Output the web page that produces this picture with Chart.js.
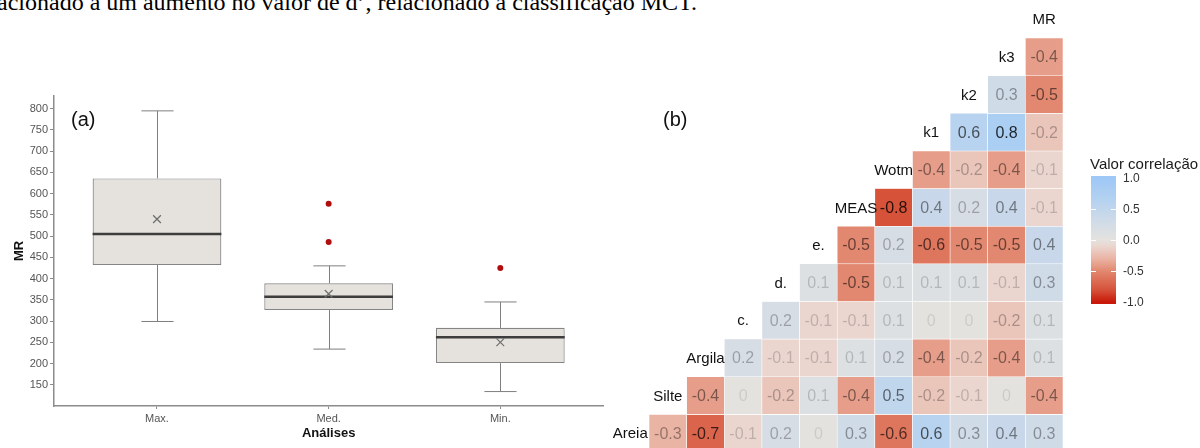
<!DOCTYPE html>
<html>
<head>
<meta charset="utf-8">
<title>MR - boxplot e correlação</title>
<script src="https://cdn.jsdelivr.net/npm/chart.js@4.4.1/dist/chart.umd.min.js"></script>
<style>
  html, body { margin: 0; padding: 0; background: #fff; }
  body { width: 1200px; height: 448px; overflow: hidden; position: relative; }
  #docText { position: absolute; left: -3px; top: -10px; font: 24px "Liberation Serif", "Times New Roman", serif; line-height: 24px; color: #000; white-space: nowrap; }
  .tag { position: absolute; top: 107px; font: 20px "Liberation Sans", Arial, sans-serif; line-height: 24px; color: #111; }
  #boxWrap { position: absolute; left: 0; top: 0; }
  #heatWrap { position: absolute; left: 600px; top: 0; }
</style>
</head>
<body>
<div id="docText">acionado a um aumento no valor de d’, relacionado à classificação MCT.</div>
<div id="boxWrap"><canvas id="boxChart" width="610" height="448"></canvas></div>
<div id="heatWrap"><canvas id="heatChart" width="600" height="456"></canvas></div>
<div class="tag" style="left:71px">(a)</div>
<div class="tag" style="left:663px">(b)</div>
<script>
// (a) boxplot do MR
var categories = ['Max.', 'Med.', 'Min.'];
var boxQ1 = [432, 326, 201];
var boxQ3 = [636, 389, 284];
var medians = [505, 357, 262];
var means = [540, 364, 250];
var whiskerLow = [299, 234, 134];
var whiskerHigh = [795, 430, 345];
var outlierGroup = ['Med.', 'Med.', 'Min.'];
var outlierValues = [576, 486, 425];
var yTicks = [150, 200, 250, 300, 350, 400, 450, 500, 550, 600, 650, 700, 750, 800];

// (b) matriz de correlação (cada linha: correlação com as variáveis seguintes)
var variables = ['Areia', 'Silte', 'Argila', 'c.', 'd.', 'e.', 'MEAS', 'Wotm', 'k1', 'k2', 'k3', 'MR'];
var corAreia = [-0.3, -0.7, -0.1, 0.2, 0, 0.3, -0.6, 0.6, 0.3, 0.4, 0.3];
var corSilte = [-0.4, 0, -0.2, 0.1, -0.4, 0.5, -0.2, -0.1, 0, -0.4];
var corArgila = [0.2, -0.1, -0.1, 0.1, 0.2, -0.4, -0.2, -0.4, 0.1];
var corC = [0.2, -0.1, -0.1, 0.1, 0, 0, -0.2, 0.1];
var corD = [0.1, -0.5, 0.1, 0.1, 0.1, -0.1, 0.3];
var corE = [-0.5, 0.2, -0.6, -0.5, -0.5, 0.4];
var corMEAS = [-0.8, 0.4, 0.2, 0.4, -0.1];
var corWotm = [-0.4, -0.2, -0.4, -0.1];
var corK1 = [0.6, 0.8, -0.2];
var corK2 = [0.3, -0.5];
var corK3 = [-0.4];
var legendTicks = [1, 0.5, 0, -0.5, -1];

var colorStops = [
    [-1, [200, 25, 10]],
    [-0.8, [214, 83, 58]],
    [-0.5, [226, 136, 112]],
    [-0.3, [234, 180, 164]],
    [-0.1, [234, 214, 207]],
    [0, [228, 226, 223]],
    [0.3, [208, 219, 232]],
    [0.6, [184, 211, 239]],
    [1, [158, 200, 246]]
];

function colorFor(v) {
    for (var i = 1; i < colorStops.length; i++) {
        if (v <= colorStops[i][0]) {
            var a = colorStops[i - 1], b = colorStops[i];
            var t = (v - a[0]) / (b[0] - a[0]);
            var c = a[1].map(function(ch, k) { return Math.round(ch + (b[1][k] - ch) * t); });
            return 'rgb(' + c.join(',') + ')';
        }
    }
    return 'rgb(' + colorStops[colorStops.length - 1][1].join(',') + ')';
}

var FONT = '"Liberation Sans", Arial, sans-serif';
var axisGrey = '#8c8c8c';

// ---- boxplot ----
var whiskerPlugin = {
    id: 'whiskers',
    afterDatasetDraw: function(chart, args) {
        if (args.index !== 0) return;
        var ctx = chart.ctx, x = chart.scales.x, y = chart.scales.y;
        ctx.save();
        categories.forEach(function(c, i) {
            var bar = args.meta.data[i];
            var cx = Math.round(x.getPixelForValue(i + 1)) + 0.5;
            var half = bar.width / 2;
            var cap = half / 4;
            ctx.strokeStyle = '#7f7f7f';
            ctx.lineWidth = 1;
            ctx.beginPath();
            ctx.moveTo(cx, y.getPixelForValue(boxQ3[i]));
            ctx.lineTo(cx, y.getPixelForValue(whiskerHigh[i]));
            ctx.moveTo(cx, y.getPixelForValue(boxQ1[i]));
            ctx.lineTo(cx, y.getPixelForValue(whiskerLow[i]));
            ctx.moveTo(cx - cap, y.getPixelForValue(whiskerHigh[i]));
            ctx.lineTo(cx + cap, y.getPixelForValue(whiskerHigh[i]));
            ctx.moveTo(cx - cap, y.getPixelForValue(whiskerLow[i]));
            ctx.lineTo(cx + cap, y.getPixelForValue(whiskerLow[i]));
            ctx.stroke();
            ctx.strokeStyle = '#3d3d3d';
            ctx.lineWidth = 2.5;
            ctx.beginPath();
            ctx.moveTo(bar.x - half, y.getPixelForValue(medians[i]));
            ctx.lineTo(bar.x + half, y.getPixelForValue(medians[i]));
            ctx.stroke();
        });
        ctx.restore();
    }
};

new Chart(document.getElementById('boxChart'), {
    type: 'bar',
    data: {
        datasets: [{
            data: categories.map(function(c, i) { return { x: i + 1, y: [boxQ1[i], boxQ3[i]] }; }),
            backgroundColor: '#e5e1dd',
            borderColor: '#858585',
            borderWidth: 1.2,
            borderSkipped: false,
            barPercentage: 0.75,
            categoryPercentage: 1,
            order: 3
        }, {
            type: 'scatter',
            data: categories.map(function(c, i) { return { x: i + 1, y: means[i] }; }),
            pointStyle: 'crossRot',
            radius: 5.5,
            borderColor: '#6e6e6e',
            borderWidth: 1.2,
            backgroundColor: 'transparent',
            order: 2
        }, {
            type: 'scatter',
            data: outlierValues.map(function(v, i) { return { x: categories.indexOf(outlierGroup[i]) + 1, y: v }; }),
            pointStyle: 'circle',
            radius: 3,
            borderWidth: 0,
            backgroundColor: '#b10d0d',
            order: 1
        }]
    },
    options: {
        responsive: false,
        animation: false,
        layout: { padding: { top: 96, right: 6, left: 0, bottom: 0 } },
        plugins: { legend: { display: false }, tooltip: { enabled: false } },
        scales: {
            x: {
                type: 'linear',
                min: 0.4,
                max: 3.6,
                offset: false,
                afterBuildTicks: function(s) { s.ticks = categories.map(function(c, i) { return { value: i + 1 }; }); },
                afterFit: function(s) { s.height = 42; },
                grid: { drawOnChartArea: false, drawTicks: true, tickLength: 3, color: axisGrey, offset: false },
                border: { display: true, color: axisGrey, width: 1.5 },
                ticks: {
                    color: '#555',
                    font: { family: FONT, size: 11 },
                    padding: 3,
                    callback: function(v) { return categories[v - 1] || ''; }
                },
                title: { display: true, text: 'Análises', color: '#111', font: { family: FONT, size: 13, weight: 'bold' }, padding: { top: 0, bottom: 7 } }
            },
            y: {
                min: 100,
                max: 830,
                afterBuildTicks: function(s) { s.ticks = yTicks.map(function(v) { return { value: v }; }); },
                afterFit: function(s) { s.width = 54; },
                grid: { drawOnChartArea: false, drawTicks: true, tickLength: 4, color: axisGrey },
                border: { display: true, color: axisGrey, width: 1.5 },
                ticks: { color: '#555', font: { family: FONT, size: 11 }, padding: 2 },
                title: { display: true, text: 'MR', color: '#111', font: { family: FONT, size: 13, weight: 'bold' }, padding: { top: 12, bottom: 0 } }
            }
        }
    },
    plugins: [whiskerPlugin]
});

// ---- heatmap ----
var rowValues = [corAreia, corSilte, corArgila, corC, corD, corE, corMEAS, corWotm, corK1, corK2, corK3];
var heatData = [];
rowValues.forEach(function(vals, i) {
    vals.forEach(function(v, k) {
        heatData.push({ x: variables[i + 1 + k], y: [i - 0.5, i + 0.5], v: v });
    });
});

function fmt(v) { return v === 0 ? '0' : v.toFixed(1); }

var heatLabels = {
    id: 'heatLabels',
    afterDatasetsDraw: function(chart) {
        var ctx = chart.ctx, x = chart.scales.x, y = chart.scales.y;
        ctx.save();
        ctx.textAlign = 'center';
        ctx.textBaseline = 'middle';
        ctx.font = '15px ' + FONT;
        ctx.fillStyle = '#111';
        variables.forEach(function(name, i) {
            ctx.fillText(name, x.getPixelForValue(i), y.getPixelForValue(i) + 1);
        });
        ctx.font = '16px ' + FONT;
        heatData.forEach(function(d) {
            ctx.fillStyle = 'rgba(0,0,0,' + (0.1 + 0.9 * Math.abs(d.v)).toFixed(2) + ')';
            ctx.fillText(fmt(d.v), x.getPixelForValue(variables.indexOf(d.x)), y.getPixelForValue((d.y[0] + d.y[1]) / 2) + 1);
        });

        // colour bar legend
        var bx = 491, bw = 25, top = 178, bottom = 302;
        var grad = ctx.createLinearGradient(0, top, 0, bottom);
        colorStops.forEach(function(s) { grad.addColorStop((1 - s[0]) / 2, colorFor(s[0])); });
        ctx.fillStyle = grad;
        ctx.fillRect(bx, top - 2, bw, bottom - top + 4);
        ctx.strokeStyle = '#fff';
        ctx.lineWidth = 1;
        ctx.fillStyle = '#333';
        ctx.textAlign = 'left';
        ctx.font = '12px ' + FONT;
        legendTicks.forEach(function(v) {
            var ty = top + (1 - v) / 2 * (bottom - top);
            if (v !== 1 && v !== -1) {
                ctx.beginPath();
                ctx.moveTo(bx, Math.round(ty) + 0.5); ctx.lineTo(bx + 5, Math.round(ty) + 0.5);
                ctx.moveTo(bx + bw - 5, Math.round(ty) + 0.5); ctx.lineTo(bx + bw, Math.round(ty) + 0.5);
                ctx.stroke();
            }
            ctx.fillText(v.toFixed(1), bx + 32, ty + 1);
        });
        ctx.fillStyle = '#1a1a1a';
        ctx.font = '15px ' + FONT;
        ctx.textBaseline = 'alphabetic';
        ctx.fillText('Valor correlação', 490, 169);
        ctx.restore();
    }
};

new Chart(document.getElementById('heatChart'), {
    type: 'bar',
    data: {
        labels: variables,
        datasets: [{
            data: heatData,
            backgroundColor: function(c) { return c.raw ? colorFor(c.raw.v) : 'transparent'; },
            borderColor: '#ffffff',
            borderWidth: 0.6,
            borderSkipped: false,
            barPercentage: 1,
            categoryPercentage: 1
        }]
    },
    options: {
        responsive: false,
        animation: false,
        layout: { padding: { left: 11.4, right: 137, top: 0.4, bottom: 4 } },
        plugins: { legend: { display: false }, tooltip: { enabled: false } },
        scales: {
            x: { display: false, offset: true },
            y: { display: false, type: 'linear', min: -0.5, max: 11.5 }
        }
    },
    plugins: [heatLabels]
});
</script>
</body>
</html>
